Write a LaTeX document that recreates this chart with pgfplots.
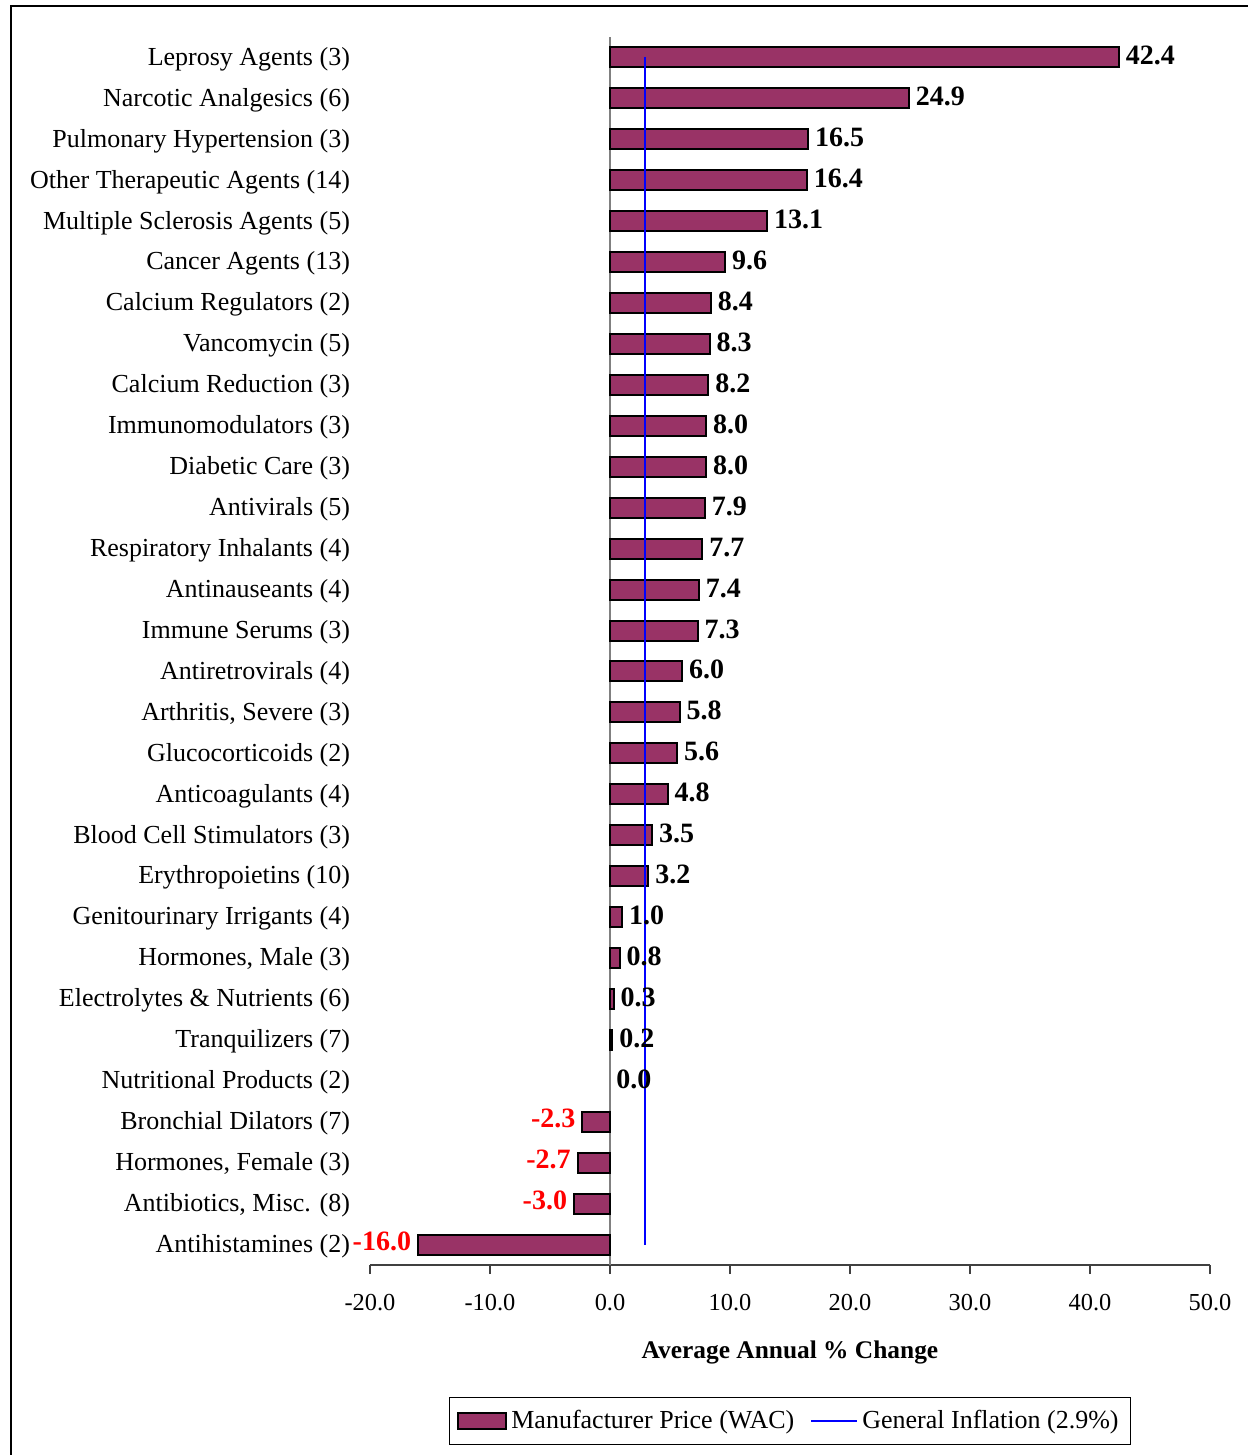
\documentclass[border=0pt]{standalone}
\usepackage{pgfplots}
\pgfplotsset{compat=1.18}
\usepackage{fontspec}
\setmainfont{Liberation Serif}
\definecolor{barcol}{RGB}{153,51,102}
\definecolor{axgray}{RGB}{128,128,128}
\begin{document}
\begin{tikzpicture}
\path[use as bounding box] (0,0) rectangle (624pt,-727.5pt);
\draw[line width=1pt] (5.5pt,-727.5pt) -- (5.5pt,-3pt) -- (624pt,-3pt);
\begin{axis}[
  at={(185pt,-632.5pt)}, anchor=south west,
  scale only axis, width=420pt, height=614pt,
  xmin=-20, xmax=50, ymin=-0.5, ymax=29.5,
  clip=false,
  axis x line*=bottom, axis y line*=left,
  y axis line style={draw=none},
  x axis line style={draw=black!75, line width=0.8pt, -},
  xtick={-20,-10,...,50},
  tick align=outside,
  xtick style={draw=black!75, line width=0.8pt},
  major tick length=4.5pt,
  ytick={0,...,29},
  ytick style={draw=none},
  /pgf/number format/.cd, fixed, fixed zerofill, precision=1, assume math mode=true,
  /pgfplots/.cd,
  xticklabel style={font=\fontsize{12.2}{14}\selectfont, yshift=-6.5pt},
  yticklabel style={font=\fontsize{13}{14}\selectfont, xshift=-2pt, yshift=-0.8pt},
  yticklabels={
    Antihistamines (2),
    {Antibiotics, Misc. (8)},
    {Hormones, Female (3)},
    Bronchial Dilators (7),
    Nutritional Products (2),
    Tranquilizers (7),
    Electrolytes \& Nutrients (6),
    {Hormones, Male (3)},
    Genitourinary Irrigants (4),
    Erythropoietins (10),
    Blood Cell Stimulators (3),
    Anticoagulants (4),
    Glucocorticoids (2),
    {Arthritis, Severe (3)},
    Antiretrovirals (4),
    Immune Serums (3),
    Antinauseants (4),
    Respiratory Inhalants (4),
    Antivirals (5),
    Diabetic Care (3),
    Immunomodulators (3),
    Calcium Reduction (3),
    Vancomycin (5),
    Calcium Regulators (2),
    Cancer Agents (13),
    Multiple Sclerosis Agents (5),
    Other Therapeutic Agents (14),
    Pulmonary Hypertension (3),
    Narcotic Analgesics (6),
    Leprosy Agents (3)},
  xlabel={Average Annual \% Change},
  xlabel style={font=\fontsize{12.7}{14}\selectfont\bfseries, at={(axis description cs:0.5,-0.0715)}, anchor=center},
  legend style={at={(0.5,-0.127)}, anchor=center, legend columns=2,
    draw=black, line width=0.6pt, font=\fontsize{13}{14}\selectfont,
    inner xsep=4pt, inner ysep=4.5pt,
    /tikz/every even column/.append style={column sep=6pt}},
]
\draw[axgray, line width=0.8pt] (axis cs:0,-0.5) -- (axis cs:0,29.5);
\addplot[xbar, bar width=10pt, bar shift=0pt, fill=barcol, draw=black, line width=1pt,
  point meta=x, nodes near coords, nodes near coords align={horizontal},
  every node near coord/.append style={font=\fontsize{14}{14}\selectfont\bfseries, black, inner sep=3pt, yshift=0.8pt},
  legend image code/.code={\draw[fill=barcol, draw=black, line width=1pt] (0pt,-4pt) rectangle (24pt,4pt);}]
  coordinates {
  (0.2,5) (0.3,6) (0.8,7) (1.0,8) (3.2,9) (3.5,10) (4.8,11) (5.6,12) (5.8,13)
  (6.0,14) (7.3,15) (7.4,16) (7.7,17) (7.9,18) (8.0,19) (8.0,20) (8.2,21)
  (8.3,22) (8.4,23) (9.6,24) (13.1,25) (16.4,26) (16.5,27) (24.9,28) (42.4,29)};
\addlegendentry{Manufacturer Price (WAC)}
\addplot[xbar, bar width=10pt, bar shift=0pt, fill=barcol, draw=black, line width=1pt,
  forget plot,
  point meta=x, nodes near coords, nodes near coords align={horizontal},
  every node near coord/.append style={font=\fontsize{14}{14}\selectfont\bfseries, red, inner sep=3pt, yshift=1.5pt}]
  coordinates {(-16.0,0) (-3.0,1) (-2.7,2) (-2.3,3)};
\addplot[xbar, bar width=10pt, bar shift=0pt, draw=none, fill=none, forget plot,
  point meta=x, nodes near coords, nodes near coords align={horizontal},
  every node near coord/.append style={font=\fontsize{14}{14}\selectfont\bfseries, black, anchor=west, inner sep=3pt, yshift=0.8pt}]
  coordinates {(0.0,4)};
\addplot[blue, line width=1pt, mark=none,
  legend image code/.code={\draw[blue, line width=1pt] (0pt,0pt) -- (23pt,0pt);}]
  coordinates {(2.9,0) (2.9,29)};
\addlegendentry{General Inflation (2.9\%)}
\end{axis}
\end{tikzpicture}
\end{document}
